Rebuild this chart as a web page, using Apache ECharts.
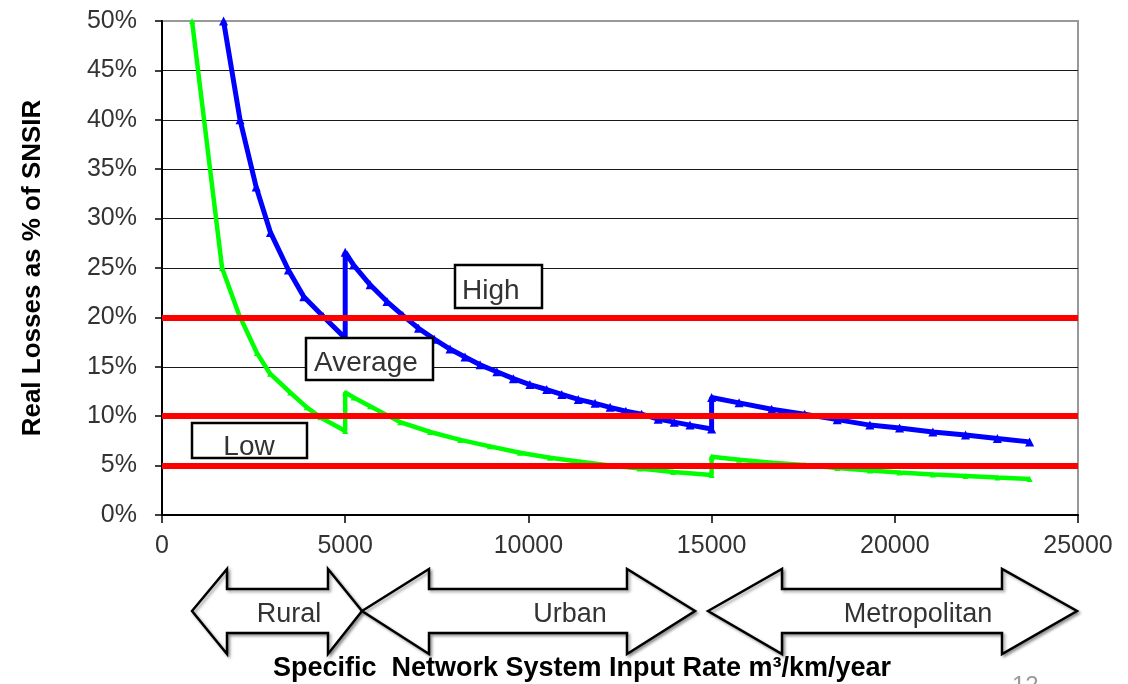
<!DOCTYPE html>
<html>
<head>
<meta charset="utf-8">
<script src="https://cdn.jsdelivr.net/npm/echarts@6/dist/echarts.min.js"></script>
<style>
  html, body { margin: 0; padding: 0; background: #fff; }
  #chart { width: 1128px; height: 684px; }
</style>
</head>
<body>
<div id="chart"></div>
<script>
// x = specific system input rate (m3/km/year), y = real losses in % of SNSIR
const highCurve = [
  [1680, 50], [2130, 40], [2570, 33.2], [2960, 28.6], [3450, 24.8], [3870, 22.1],
  [4400, 20.1], [5000, 17.9],
  [5000, 26.6], [5230, 25.3], [5680, 23.3], [6140, 21.6], [6570, 20.2], [7000, 18.9],
  [7430, 17.8], [7860, 16.8], [8270, 16.0], [8680, 15.2], [9140, 14.5], [9590, 13.8],
  [10040, 13.2], [10500, 12.7], [10910, 12.2], [11360, 11.7], [11820, 11.3], [12230, 10.9],
  [12660, 10.5], [13090, 10.2], [13540, 9.7], [13980, 9.4], [14410, 9.1], [15000, 8.7],
  [15000, 11.9], [15750, 11.35], [16640, 10.7], [17540, 10.2], [18430, 9.65], [19320, 9.1],
  [20130, 8.8], [21040, 8.4], [21930, 8.1], [22800, 7.75], [23680, 7.4]
];
const lowCurve = [
  [820, 50], [1640, 25.0], [2100, 20.3], [2590, 16.4], [2950, 14.3], [3500, 12.4],
  [3950, 10.9], [4320, 9.9], [5000, 8.5],
  [5000, 12.4], [5230, 11.9], [5680, 11.0], [6500, 9.4], [7320, 8.4], [8140, 7.6],
  [8950, 6.95], [9770, 6.3], [10590, 5.8], [11410, 5.4], [12230, 5.0], [13040, 4.7],
  [13950, 4.35], [15000, 4.05],
  [15000, 5.9], [15750, 5.6], [16640, 5.3], [17540, 5.05], [18430, 4.75], [19320, 4.5],
  [20130, 4.3], [21040, 4.1], [21930, 3.95], [22800, 3.8], [23680, 3.65]
];
const thresholds = [20, 10, 5];
const bandLabels = ['High', 'Average', 'Low'];
const zoneLabels = ['Rural', 'Urban', 'Metropolitan'];

const chart = echarts.init(document.getElementById('chart'));

const font = 'Liberation Sans, Arial, sans-serif';
const gridColors = [];
for (let i = 0; i < 10; i++) gridColors.push('#1a1a1a');
gridColors.push('#999');

// block arrows below the axis: [left tip, left head inner, right head inner, right tip]
const arrowX = [[192, 227, 328, 362], [362, 429, 627, 695], [708, 782, 1002, 1077]];
const arrowY = {headTop: 569, shaftTop: 589, mid: 611, shaftBottom: 633, headBottom: 654};

function arrow(x) {
  const y = arrowY;
  return {
    type: 'polygon',
    z: 50,
    shape: {
      points: [
        [x[0], y.mid], [x[1], y.headTop], [x[1], y.shaftTop], [x[2], y.shaftTop],
        [x[2], y.headTop], [x[3], y.mid], [x[2], y.headBottom], [x[2], y.shaftBottom],
        [x[1], y.shaftBottom], [x[1], y.headBottom]
      ]
    },
    style: {
      fill: '#fff', stroke: '#000', lineWidth: 2.5, lineJoin: 'miter',
      shadowBlur: 3, shadowOffsetX: 2, shadowOffsetY: 2, shadowColor: 'rgba(0,0,0,0.35)'
    }
  };
}

const zoneCenters = [289, 570, 918];
const graphics = [];
arrowX.forEach(function (x) { graphics.push(arrow(x)); });
zoneLabels.forEach(function (t, i) {
  graphics.push({
    type: 'text', z: 60, x: zoneCenters[i], y: 615,
    style: {text: t, font: '27px ' + font, fill: '#333', align: 'center', verticalAlign: 'middle'}
  });
});

// callout boxes for the bands
const boxes = [
  {x: 455, y: 265, w: 87, h: 43, tx: 462, ty: 291, align: 'left'},
  {x: 306, y: 338, w: 127, h: 42, tx: 314, ty: 363, align: 'left'},
  {x: 192, y: 423, w: 115, h: 35, tx: 249, ty: 447, align: 'center'}
];
boxes.forEach(function (b, i) {
  graphics.push({
    type: 'rect', z: 100,
    shape: {x: b.x, y: b.y, width: b.w, height: b.h},
    style: {fill: '#fff', stroke: '#000', lineWidth: 2.5}
  });
  graphics.push({
    type: 'text', z: 101, x: b.tx, y: b.ty,
    style: {text: bandLabels[i], font: '28px ' + font, fill: '#333', align: b.align, verticalAlign: 'middle'}
  });
});

graphics.push({
  type: 'text', z: 60, x: 582, y: 669,
  style: {
    text: 'Specific  Network System Input Rate m³/km/year',
    font: 'bold 27px ' + font, fill: '#000', align: 'center', verticalAlign: 'middle'
  }
});
graphics.push({
  type: 'text', z: 60, x: 1012, y: 674,
  style: {text: '12', font: '24px ' + font, fill: '#999', align: 'left', verticalAlign: 'top'}
});

chart.setOption({
  animation: false,
  backgroundColor: '#fff',
  grid: {
    left: 162, right: 50, top: 21, bottom: 169,
    show: true, borderColor: '#999', borderWidth: 2,
    outerBoundsMode: 'none'
  },
  xAxis: {
    type: 'value', min: 0, max: 25000, interval: 5000,
    axisLine: {show: true, onZero: false, lineStyle: {color: '#000', width: 2}},
    axisTick: {show: true, length: 8, lineStyle: {color: '#000', width: 1.5}},
    axisLabel: {
      margin: 19, color: '#333', fontSize: 25, fontFamily: font,
      showMinLabel: true, showMaxLabel: true,
      formatter: function (v) { return String(v); }
    },
    splitLine: {show: false}
  },
  yAxis: {
    type: 'value', min: 0, max: 50, interval: 5,
    name: 'Real Losses as % of SNSIR',
    nameLocation: 'middle', nameGap: 116, nameRotate: 90,
    nameTextStyle: {fontSize: 26, fontWeight: 'bold', color: '#000', fontFamily: font},
    axisLine: {show: true, lineStyle: {color: '#000', width: 2}},
    axisTick: {show: true, length: 7, lineStyle: {color: '#000', width: 1.5}},
    axisLabel: {margin: 25, color: '#333', fontSize: 25, fontFamily: font, formatter: '{value}%', showMinLabel: true, showMaxLabel: true},
    splitLine: {show: true, lineStyle: {color: gridColors, width: 1.2}}
  },
  series: [
    {
      name: 'Low', type: 'line', data: lowCurve, z: 3,
      symbol: 'triangle', symbolSize: 6, showSymbol: true,
      itemStyle: {color: '#00ff00'},
      lineStyle: {color: '#00ff00', width: 4.5}
    },
    {
      name: 'High', type: 'line', data: highCurve, z: 4,
      symbol: 'triangle', symbolSize: 9, showSymbol: true,
      itemStyle: {color: '#0000ff'},
      lineStyle: {color: '#0000ff', width: 5}
    },
    {
      name: 'Thresholds', type: 'line', data: [], z: 10,
      markLine: {
        silent: true, symbol: 'none', label: {show: false},
        lineStyle: {color: '#ff0000', width: 6, type: 'solid'},
        data: thresholds.map(function (v) { return {yAxis: v}; })
      }
    }
  ],
  graphic: graphics
});
</script>
</body>
</html>
